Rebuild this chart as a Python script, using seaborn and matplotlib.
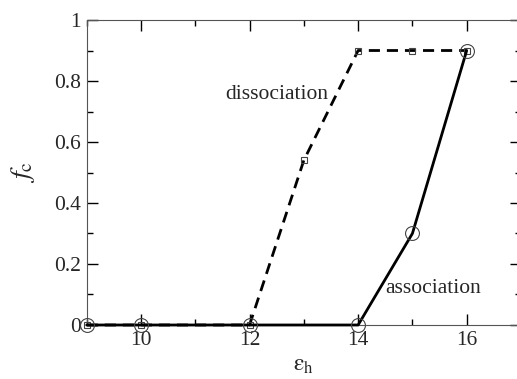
import pandas as pd
import matplotlib.pyplot as plt
import seaborn as sns
from matplotlib.ticker import MultipleLocator, FuncFormatter

# Data
diss_x = [9, 10, 12, 13, 14, 15, 16]
diss_y = [0, 0, 0, 0.54, 0.9, 0.9, 0.9]
assoc_x = [9, 10, 12, 14, 15, 16]
assoc_y = [0, 0, 0, 0, 0.3, 0.9]

diss = pd.DataFrame({"eps": diss_x, "fc": diss_y})
assoc = pd.DataFrame({"eps": assoc_x, "fc": assoc_y})

sns.set_style("ticks")
plt.rcParams["font.family"] = ["Liberation Serif", "DejaVu Serif"]
plt.rcParams["mathtext.fontset"] = "stix"

fig = plt.figure(figsize=(5.17, 3.79), dpi=100)
ax = fig.add_axes([0.1677, 0.1425, 0.840, 0.8047])

# Dissociation curve (dashed, squares)
sns.lineplot(data=diss, x="eps", y="fc", ax=ax, color="black", lw=2.0,
             linestyle=(0, (4, 2.5)), marker="s", markersize=5,
             markerfacecolor="none", markeredgecolor="#444444",
             markeredgewidth=0.8, clip_on=False, zorder=3)
# Association curve (solid, circles)
sns.lineplot(data=assoc, x="eps", y="fc", ax=ax, color="black", lw=2.0,
             marker="o", markersize=10, markerfacecolor="none",
             markeredgecolor="#444444", markeredgewidth=0.8,
             clip_on=False, zorder=4)

ax.set_xlim(9, 17)
ax.set_ylim(0, 1)
ax.xaxis.set_major_locator(MultipleLocator(2))
ax.xaxis.set_minor_locator(MultipleLocator(1))
ax.yaxis.set_major_locator(MultipleLocator(0.2))
ax.yaxis.set_minor_locator(MultipleLocator(0.1))
ax.yaxis.set_major_formatter(FuncFormatter(lambda v, p: "%g" % round(v, 2)))

ax.tick_params(which="both", direction="in", top=True, right=True,
               labelsize=15.5, width=1, color="black")
ax.tick_params(which="major", length=8, pad=4)
ax.tick_params(which="minor", length=4)
for s in ax.spines.values():
    s.set_linewidth(0.8)
    s.set_color("#555555")

ax.set_xlabel(r"$\mathrm{ε}_\mathrm{h}$", fontsize=17, labelpad=4)
ax.set_ylabel(r"$f_\mathrm{c}$", fontsize=20, labelpad=12)

ax.text(13.45, 0.755, "dissociation", fontsize=15.5, ha="right", va="center")
ax.text(14.5, 0.12, "association", fontsize=15.5, ha="left", va="center")

plt.savefig("out.png", dpi=100)
